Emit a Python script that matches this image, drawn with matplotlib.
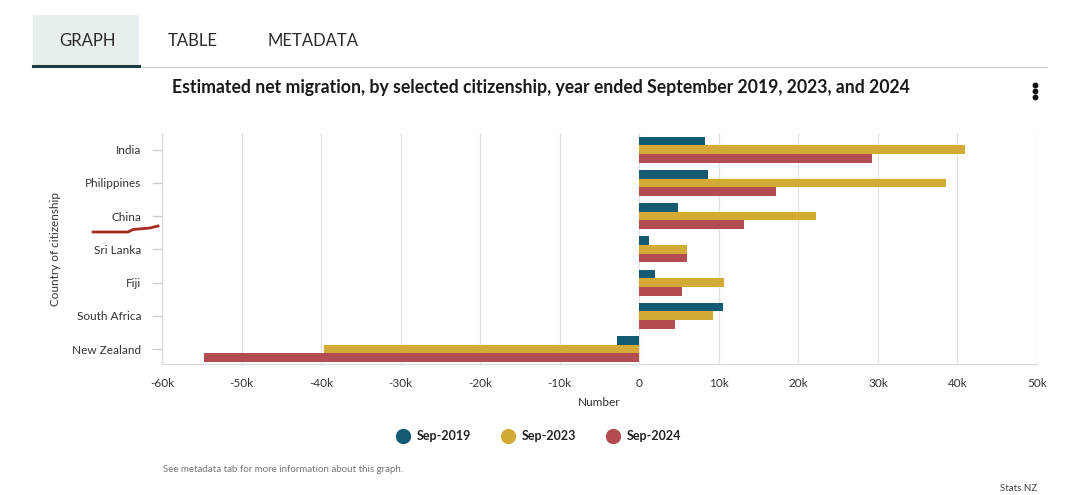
import matplotlib.pyplot as plt
import numpy as np
from matplotlib.patches import Rectangle
from matplotlib.lines import Line2D

plt.rcParams['font.family'] = ['Lato', 'DejaVu Sans']

countries = ["India", "Philippines", "China", "Sri Lanka", "Fiji", "South Africa", "New Zealand"]
series = ["Sep-2019", "Sep-2023", "Sep-2024"]
sep_2019 = [8300, 8600, 4900, 1200, 2000, 10500, -2800]
sep_2023 = [41000, 38600, 22200, 6000, 10700, 9300, -39600]
sep_2024 = [29300, 17200, 13200, 6000, 5400, 4500, -54700]
colors = ["#145a70", "#d3aa36", "#b24c50"]
xticks = [-60000, -50000, -40000, -30000, -20000, -10000, 0, 10000, 20000, 30000, 40000, 50000]
xtick_labels = ["-60k", "-50k", "-40k", "-30k", "-20k", "-10k", "0", "10k", "20k", "30k", "40k", "50k"]

W, H = 1069, 495
fig = plt.figure(figsize=(W / 100, H / 100), dpi=100)


def fx(x):
    return x / W


def fy(y):
    return 1 - y / H


# tabs header
fig.add_artist(Rectangle((fx(33), fy(66)), fx(139) - fx(33), fy(15) - fy(66),
                         transform=fig.transFigure, color="#e7eef0", lw=0))
fig.add_artist(Line2D([fx(139), fx(1047)], [fy(67), fy(67)], transform=fig.transFigure,
                      color="#d0d0d0", lw=1))
fig.add_artist(Line2D([fx(33), fx(139)], [fy(65.5), fy(65.5)], transform=fig.transFigure,
                      color="#1c3a40", lw=2.2))
for label, cx in [("GRAPH", 87), ("TABLE", 193), ("METADATA", 313)]:
    fig.text(fx(cx), fy(41), label, ha="center", va="center", fontsize=12, color="#2b2b2b")

fig.text(fx(541), fy(87), "Estimated net migration, by selected citizenship, year ended September 2019, 2023, and 2024",
         ha="center", va="center", fontsize=12.7, fontweight="bold", color="#1a1a1a")

# menu dots
fig.add_artist(Line2D([fx(1035)] * 3, [fy(84.5), fy(91), fy(97)], transform=fig.transFigure,
                      ls="none", marker="o", markersize=3.2, color="#111111"))

# main chart
ax = fig.add_axes([fx(162), fy(364), fx(1037) - fx(162), fy(133) - fy(364)])
y = np.arange(len(countries))
h = 0.26
for k, (vals, name) in enumerate(zip([sep_2019, sep_2023, sep_2024], series)):
    ax.barh(y + (k - 1) * h, vals, height=h, color=colors[k], label=name, zorder=3)

ax.set_xlim(-60000, 50000)
ax.set_ylim(6.45, -0.5)
ax.set_xticks(xticks)
ax.set_xticklabels(xtick_labels)
ax.set_yticks(y)
ax.set_yticklabels(countries)
ax.grid(axis="x", color="#e2e2e2", lw=1, zorder=0)
for s in ["top", "right"]:
    ax.spines[s].set_visible(False)
for s in ["left", "bottom"]:
    ax.spines[s].set_color("#d9d9d9")
ax.tick_params(axis="x", length=0, pad=10, labelsize=8.5, labelcolor="#333333")
ax.tick_params(axis="y", length=7, width=1, color="#d0d0d0", pad=8, labelsize=8.5, labelcolor="#333333")
ax.set_xlabel("Number", fontsize=8.5, color="#333333", labelpad=6)
ax.set_ylabel("Country of citizenship", fontsize=8.5, color="#333333", labelpad=8)

# hand-drawn red mark near China
fig.add_artist(Line2D([fx(93), fx(128), fx(133), fx(150), fx(158)],
                      [fy(232), fy(232), fy(229.5), fy(228), fy(226)],
                      transform=fig.transFigure, color="#a82a22", lw=2))

# legend
for k, (name, cx) in enumerate(zip(series, [403, 508, 613])):
    fig.add_artist(Line2D([fx(cx)], [fy(436)], transform=fig.transFigure, ls="none",
                          marker="o", markersize=10, color=colors[k]))
    fig.text(fx(cx + 14), fy(436), name, ha="left", va="center", fontsize=9, fontweight="bold", color="#222222")

fig.text(fx(163), fy(469), "See metadata tab for more information about this graph.",
         ha="left", va="center", fontsize=7, color="#777777")
fig.text(fx(1037), fy(484), "Stats NZ", ha="right", va="top", fontsize=7, color="#444444")

fig.savefig("out.png", dpi=100)
